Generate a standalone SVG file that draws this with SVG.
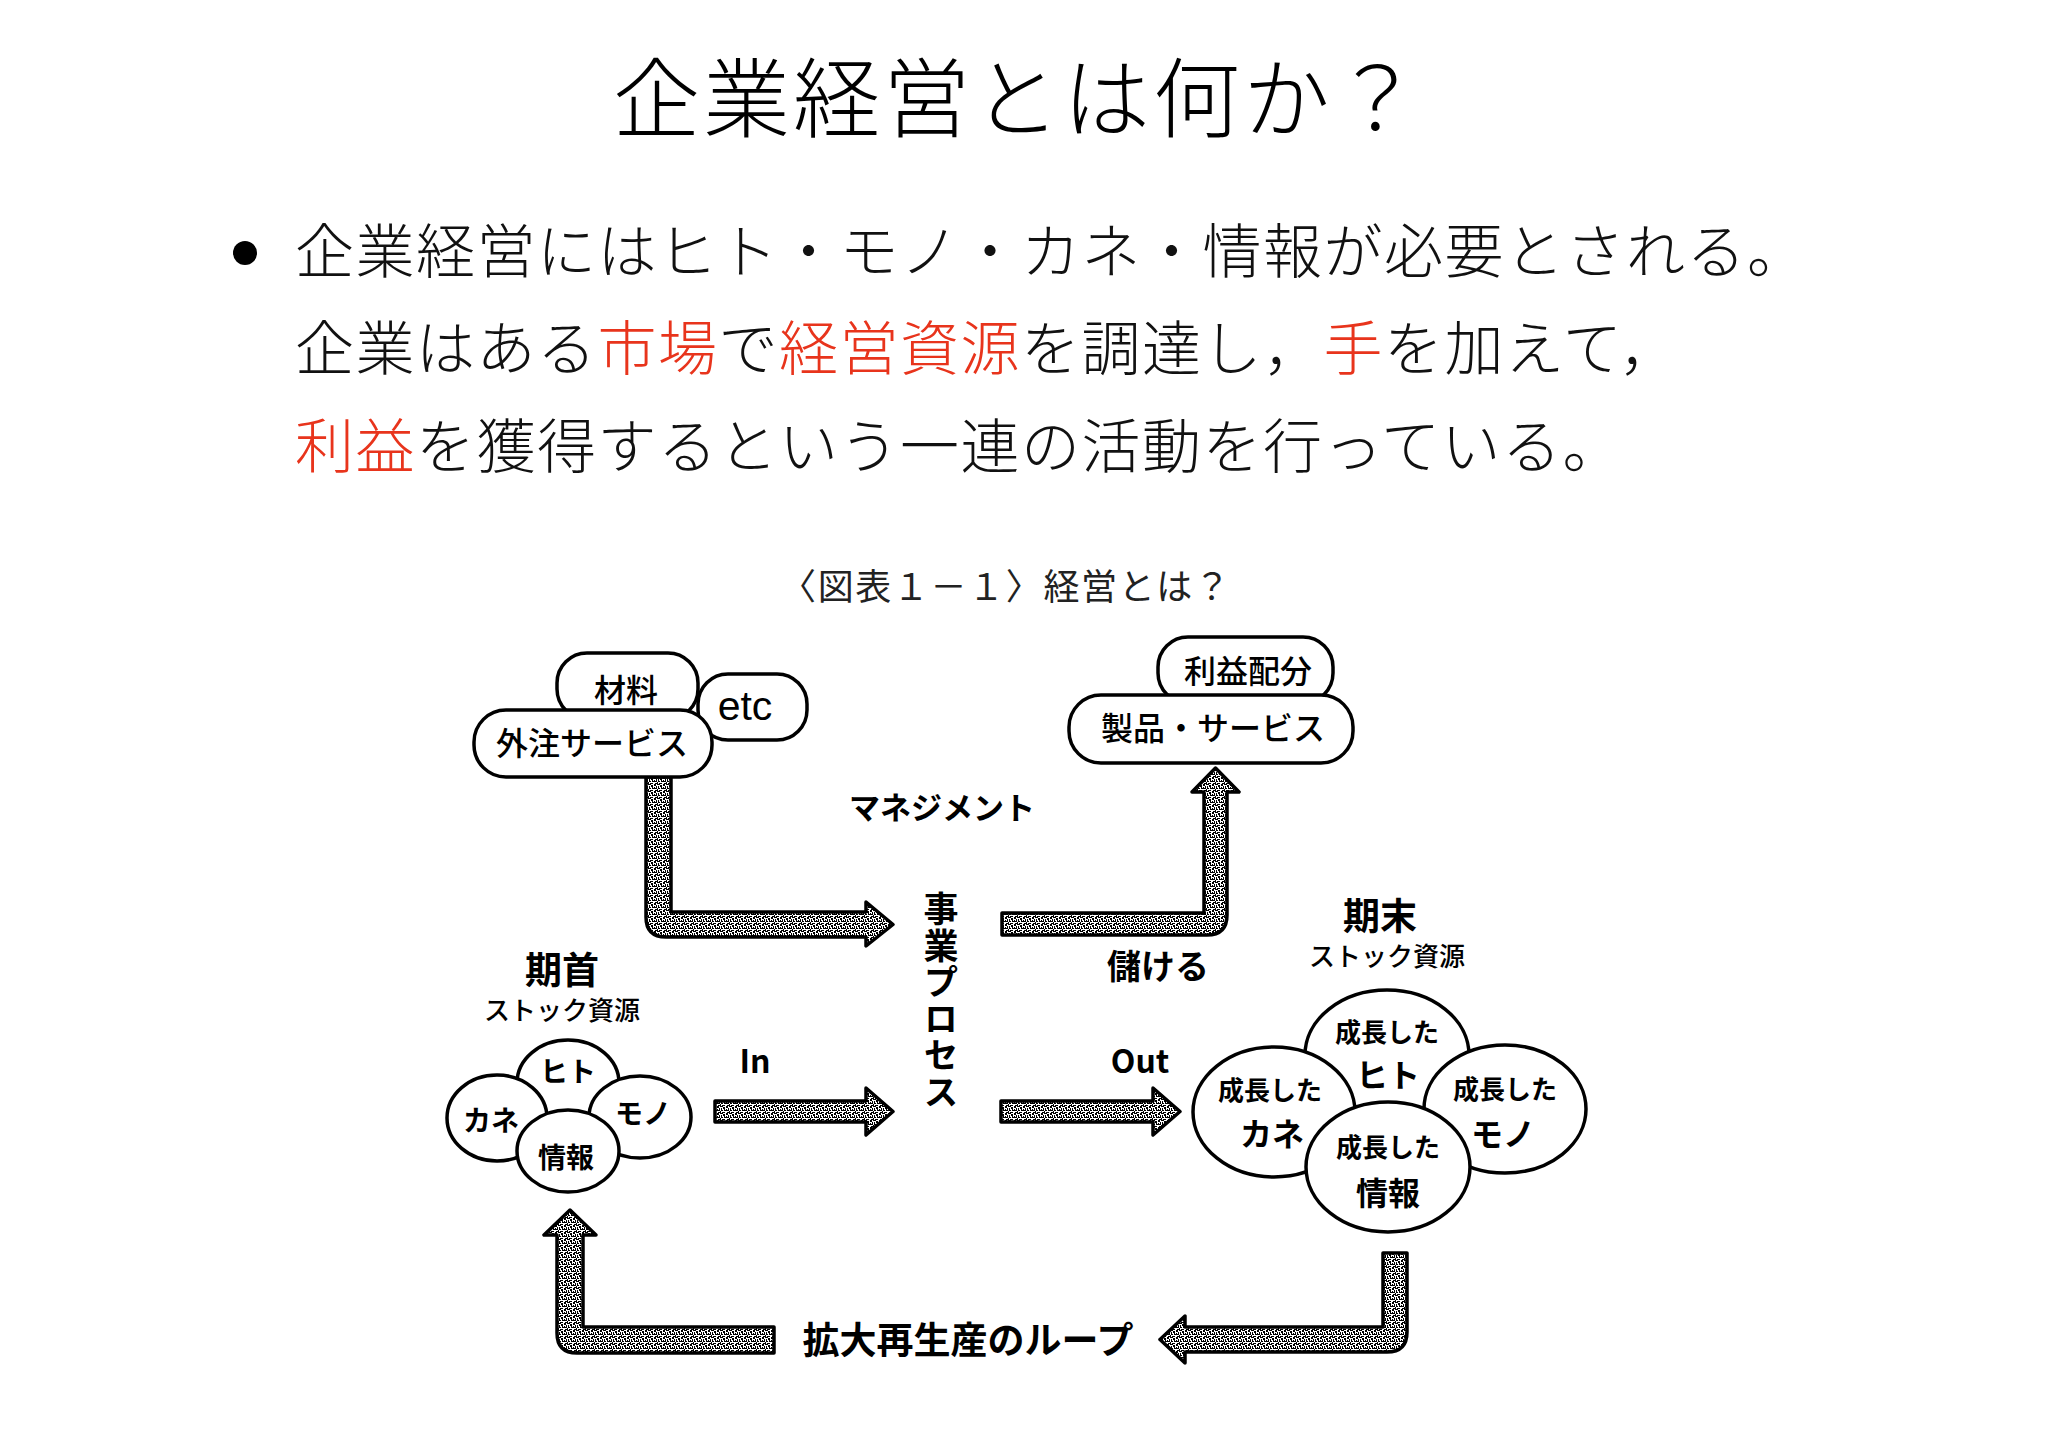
<svg xmlns="http://www.w3.org/2000/svg" width="2048" height="1446" viewBox="0 0 2048 1446">
<defs>
<pattern id="stip" patternUnits="userSpaceOnUse" width="9" height="7">
<rect width="9" height="7" fill="#fff"/>
<path d="M0 0h3v1H0zM3 1h2v2H3zM6 0h2v2H6zM1 2h1v3H1zM5 4h3v1H5zM8 2h1v3H8zM2 6h3v1H2zM7 6h2v1H7zM4 3h1v2H4zM0 5h1v2H0zM6 3h1v1H6zM2 4h1v1H2z" fill="#000"/>
</pattern>
<style>
.jp{font-family:"Noto Sans CJK JP","Noto Sans CJK SC",sans-serif;}
.title{font-size:87px;font-weight:300;fill:#000;letter-spacing:3px;}
.body{font-size:59px;font-weight:300;fill:#111;letter-spacing:1.5px;}
.red{fill:#e8341c;}
.cap{font-size:36px;font-weight:400;fill:#222;}
.lbl{font-size:32px;font-weight:500;fill:#000;}
.b{font-weight:700;fill:#000;}
.box{fill:#fff;stroke:#000;stroke-width:3.5;}
.circ{fill:#fff;stroke:#000;stroke-width:3.5;}
.arr{fill:url(#stip);stroke:#000;stroke-width:3.5;stroke-linejoin:round;}
.s26{font-size:26px;}
.s32{font-size:32px;}
</style>
</defs>
<rect width="2048" height="1446" fill="#fff"/>

<g id="title">
<text class="jp title" x="1018" y="131" text-anchor="middle">企業経営とは何か？</text>
</g>

<g id="bullet-text">
<circle cx="245" cy="253" r="12" fill="#000"/>
<text class="jp body" x="295" y="273">企業経営にはヒト・モノ・カネ・情報が必要とされる。</text>
<text class="jp body" x="295" y="370">企業はある<tspan class="red">市場</tspan>で<tspan class="red">経営資源</tspan>を調達し，<tspan class="red">手</tspan>を加えて，</text>
<text class="jp body" x="295" y="468"><tspan class="red">利益</tspan>を獲得するという一連の活動を行っている。</text>
</g>

<g id="caption">
<text class="jp cap" x="780" y="600" textLength="450" lengthAdjust="spacing">〈図表１－１〉経営とは？</text>
</g>

<g id="connectors">
<path class="arr" d="M646,777 L671,777 L671,912 L866,912 L866,902 L893,924.5 L866,946 L866,937 L666,937 Q646,937 646,917 Z"/>
<path class="arr" d="M1002,913 L1204,913 L1204,792 L1192,792 L1215.5,768 L1239,792 L1227,792 L1227,915 Q1227,935 1207,935 L1002,935 Z"/>
<path class="arr" d="M715,1101 L866,1101 L866,1088 L893,1111.5 L866,1135 L866,1122 L715,1122 Z"/>
<path class="arr" d="M1001,1101 L1153,1101 L1153,1088 L1180,1111.5 L1153,1135 L1153,1122 L1001,1122 Z"/>
<path class="arr" d="M1383,1253 L1407,1253 L1407,1332 Q1407,1352 1387,1352 L1185,1352 L1185,1363 L1160,1339.5 L1185,1316 L1185,1327 L1383,1327 Z"/>
<path class="arr" d="M774,1327 L583,1327 L583,1235 L596,1235 L570,1210 L544,1235 L557,1235 L557,1333 Q557,1353 577,1353 L774,1353 Z"/>
</g>

<g id="node-etc">
<rect class="box" x="698" y="674" width="109" height="66" rx="30"/>
<text x="745" y="720" text-anchor="middle" font-family="Liberation Sans, Arial, sans-serif" font-size="41" fill="#000">etc</text>
</g>
<g id="node-zairyo">
<rect class="box" x="557" y="653" width="141" height="66" rx="30"/>
<text class="jp lbl" x="626" y="702" text-anchor="middle">材料</text>
</g>
<g id="node-gaichu">
<rect class="box" x="474" y="710" width="238" height="67" rx="32"/>
<text class="jp lbl" x="592" y="755" text-anchor="middle">外注サービス</text>
</g>

<g id="node-rieki">
<rect class="box" x="1158" y="637" width="175" height="66" rx="30"/>
<text class="jp lbl" x="1248" y="683" text-anchor="middle">利益配分</text>
</g>
<g id="node-seihin">
<rect class="box" x="1069" y="695" width="284" height="68" rx="32"/>
<text class="jp lbl" x="1213" y="740" text-anchor="middle">製品・サービス</text>
</g>

<g id="label-management">
<text class="jp b" x="942" y="819" font-size="31" text-anchor="middle">マネジメント</text>
</g>

<g id="node-jigyo">
<text class="jp b" x="941" y="1001" font-size="35" writing-mode="vertical-rl" text-anchor="middle" letter-spacing="1.5">事業プロセス</text>
</g>

<g id="label-mokeru">
<text class="jp b" x="1158" y="979" font-size="34" text-anchor="middle">儲ける</text>
</g>
<g id="label-in">
<text class="jp b" x="755" y="1073" font-size="32" text-anchor="middle">In</text>
</g>
<g id="label-out">
<text class="jp b" x="1140" y="1073" font-size="32" text-anchor="middle">Out</text>
</g>

<g id="node-kishu">
<text class="jp b" x="562" y="984" font-size="37" text-anchor="middle">期首</text>
<text class="jp" x="562" y="1020" font-size="26" font-weight="500" text-anchor="middle">ストック資源</text>
<ellipse class="circ" cx="568" cy="1083" rx="51" ry="43"/>
<ellipse class="circ" cx="497" cy="1118" rx="50" ry="43"/>
<ellipse class="circ" cx="640" cy="1117" rx="51" ry="41"/>
<ellipse class="circ" cx="568" cy="1151" rx="51" ry="41"/>
<text class="jp b" x="568" y="1082" font-size="28" text-anchor="middle">ヒト</text>
<text class="jp b" x="491" y="1131" font-size="28" text-anchor="middle">カネ</text>
<text class="jp b" x="643" y="1124" font-size="28" text-anchor="middle">モノ</text>
<text class="jp b" x="566" y="1168" font-size="28" text-anchor="middle">情報</text>
</g>

<g id="node-kimatsu">
<text class="jp b" x="1380" y="930" font-size="37" text-anchor="middle">期末</text>
<text class="jp" x="1387" y="966" font-size="26" font-weight="500" text-anchor="middle">ストック資源</text>
<ellipse class="circ" cx="1387" cy="1055" rx="82" ry="65"/>
<ellipse class="circ" cx="1274" cy="1112" rx="81" ry="65"/>
<ellipse class="circ" cx="1505" cy="1109" rx="81" ry="64"/>
<ellipse class="circ" cx="1388" cy="1167" rx="82" ry="65"/>
<text class="jp b" text-anchor="middle"><tspan class="s26" x="1387" y="1042">成長した</tspan><tspan class="s32" x="1388" y="1087">ヒト</tspan></text>
<text class="jp b" text-anchor="middle"><tspan class="s26" x="1270" y="1100">成長した</tspan><tspan class="s32" x="1272" y="1146">カネ</tspan></text>
<text class="jp b" text-anchor="middle"><tspan class="s26" x="1505" y="1099">成長した</tspan><tspan class="s32" x="1503" y="1146">モノ</tspan></text>
<text class="jp b" text-anchor="middle"><tspan class="s26" x="1388" y="1157">成長した</tspan><tspan class="s32" x="1388" y="1205">情報</tspan></text>
</g>

<g id="label-loop">
<text class="jp b" x="968" y="1354" font-size="37" text-anchor="middle">拡大再生産のループ</text>
</g>
</svg>
